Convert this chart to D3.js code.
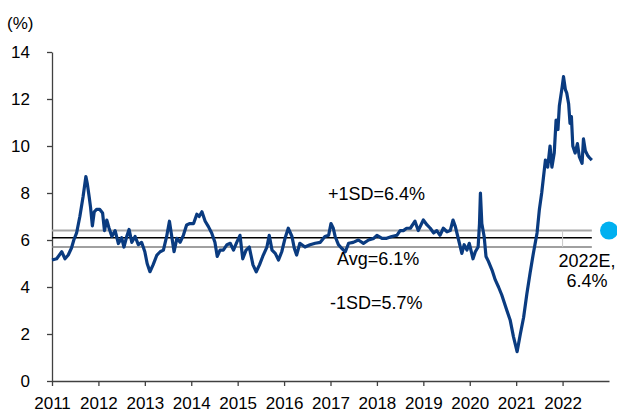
<!DOCTYPE html>
<html>
<head>
<meta charset="utf-8">
<script src="https://cdn.jsdelivr.net/npm/d3@7"></script>
<style>
  body { margin: 0; background: #fff; }
  text { font-family: "Liberation Sans", Arial, sans-serif; }
</style>
</head>
<body>
<script>
// dates as decimal years, values in %
const years = [2011.00, 2011.10, 2011.21, 2011.28, 2011.35, 2011.42, 2011.47, 2011.53, 2011.60, 2011.67,
  2011.73, 2011.76, 2011.80, 2011.83, 2011.87, 2011.91, 2011.96, 2012.03, 2012.09, 2012.13,
  2012.18, 2012.23, 2012.29, 2012.36, 2012.43, 2012.50, 2012.55, 2012.61, 2012.66, 2012.72,
  2012.79, 2012.86, 2012.93, 2013.00, 2013.05, 2013.11, 2013.18, 2013.26, 2013.33, 2013.40,
  2013.47, 2013.53, 2013.58, 2013.63, 2013.69, 2013.76, 2013.83, 2013.90, 2013.97, 2014.05,
  2014.12, 2014.17, 2014.23, 2014.30, 2014.37, 2014.44, 2014.51, 2014.56, 2014.62, 2014.69,
  2014.77, 2014.84, 2014.91, 2014.98, 2015.05, 2015.11, 2015.18, 2015.25, 2015.33, 2015.40,
  2015.47, 2015.54, 2015.63, 2015.68, 2015.74, 2015.81, 2015.88, 2015.95, 2016.02, 2016.09,
  2016.17, 2016.22, 2016.27, 2016.34, 2016.45, 2016.56, 2016.67, 2016.78, 2016.88, 2016.96,
  2017.01, 2017.06, 2017.10, 2017.17, 2017.24, 2017.32, 2017.39, 2017.49, 2017.60, 2017.71,
  2017.82, 2017.93, 2018.00, 2018.11, 2018.21, 2018.32, 2018.43, 2018.50, 2018.57, 2018.64,
  2018.72, 2018.82, 2018.89, 2019.00, 2019.08, 2019.15, 2019.22, 2019.29, 2019.36, 2019.43,
  2019.51, 2019.58, 2019.64, 2019.69, 2019.76, 2019.83, 2019.88, 2019.94, 2019.99, 2020.07,
  2020.12, 2020.18, 2020.21, 2020.23, 2020.26, 2020.31, 2020.35, 2020.40, 2020.48, 2020.55,
  2020.62, 2020.69, 2020.80, 2020.87, 2020.94, 2021.02, 2021.09, 2021.16, 2021.23, 2021.30,
  2021.37, 2021.45, 2021.50, 2021.55, 2021.59, 2021.63, 2021.68, 2021.73, 2021.77, 2021.82,
  2021.86, 2021.90, 2021.93, 2021.99, 2022.02, 2022.06, 2022.09, 2022.13, 2022.16, 2022.19,
  2022.22, 2022.27, 2022.32, 2022.36, 2022.42, 2022.45, 2022.49, 2022.54, 2022.58, 2022.63];

const values = [5.15, 5.2, 5.5, 5.2, 5.36, 5.66, 6.0, 6.3, 7.0, 7.85,
  8.7, 8.4, 7.85, 7.4, 6.6, 7.2, 7.3, 7.3, 7.15, 6.4,
  6.85, 6.5, 6.15, 6.4, 5.85, 6.1, 5.7, 6.15, 6.45, 5.9,
  6.15, 5.8, 5.9, 5.5, 5.0, 4.65, 4.95, 5.36, 5.5, 5.57,
  6.15, 6.8, 6.15, 5.5, 6.07, 5.9, 6.2, 6.64, 6.7, 6.7,
  7.1, 7.0, 7.2, 6.8, 6.57, 6.3, 5.9, 5.3, 5.57, 5.57,
  5.8, 5.86, 5.57, 5.9, 6.2, 5.2, 5.57, 5.7, 4.94, 4.65,
  4.94, 5.3, 5.7, 6.2, 5.57, 5.43, 5.15, 5.5, 6.07, 6.5,
  6.15, 5.65, 5.36, 5.86, 5.7, 5.8, 5.86, 5.9, 6.15, 6.2,
  6.7, 6.5, 6.15, 5.8, 5.65, 5.5, 5.86, 5.9, 6.0, 5.86,
  6.0, 6.07, 6.2, 6.07, 6.07, 6.15, 6.2, 6.4, 6.4, 6.5,
  6.5, 6.8, 6.4, 6.85, 6.64, 6.5, 6.3, 6.4, 6.2, 6.5,
  6.35, 6.4, 6.85, 6.57, 6.0, 5.43, 5.8, 5.57, 5.86, 5.2,
  5.5, 5.7, 6.7, 8.0, 6.7, 6.15, 5.3, 5.1, 4.72, 4.3,
  4.0, 3.66, 3.0, 2.6, 1.9, 1.25, 2.0, 2.7, 3.7, 4.6,
  5.43, 6.3, 7.3, 8.0, 8.7, 9.4, 9.1, 10.0, 9.1, 9.7,
  11.1, 10.7, 11.7, 12.5, 12.95, 12.4, 12.25, 11.8, 10.96, 11.25,
  10.0, 9.7, 10.1, 9.55, 9.26, 10.3, 9.8, 9.6, 9.5, 9.4];

const yearTicks = [2011, 2012, 2013, 2014, 2015, 2016, 2017, 2018, 2019, 2020, 2021, 2022];
const yTicks = [0, 2, 4, 6, 8, 10, 12, 14];

// reference lines
const bands = [
  { name: "+1SD", value: 6.4 },
  { name: "Avg", value: 6.1 },
  { name: "-1SD", value: 5.7 }
];
const estimate = { year: 2023, value: 6.4, label1: "2022E,", label2: "6.4%" };

const width = 617, height = 414;

let svg = d3.select("body").append("svg")
  .attr("width", width)
  .attr("height", height)

let x = d3.scaleLinear().domain([2011, 2023]).range([52, 609]);
let y = d3.scaleLinear().domain([0, 14]).range([381, 52]);

// axes
let xAxis = svg.append("g")
  .attr("transform", "translate(0," + y(0) + ")")
  .call(d3.axisBottom(x).tickValues(yearTicks).tickFormat(d3.format("d"))
    .tickSize(5).tickSizeOuter(0).tickPadding(11));

let yAxis = svg.append("g")
  .attr("transform", "translate(" + x(2011) + ",0)")
  .call(d3.axisLeft(y).tickValues(yTicks).tickSize(5).tickSizeOuter(0).tickPadding(17));

svg.selectAll(".domain, .tick line").attr("stroke", "#404040").attr("stroke-width", 1.3);
svg.selectAll(".tick text").style("font-size", "17px").attr("fill", "#000");

svg.append("text")
  .attr("x", 7).attr("y", 29)
  .style("font-size", "17px")
  .text("(%)");

// SD and average lines
const lineStyle = { "+1SD": ["#a6a6a6", 2], "Avg": ["#000", 1.5], "-1SD": ["#808080", 1.5] };
svg.selectAll("line.band")
  .data(bands)
  .enter().append("line")
  .attr("class", "band")
  .attr("x1", x(2011)).attr("x2", x(2022.63))
  .attr("y1", d => y(d.value)).attr("y2", d => y(d.value))
  .attr("stroke", d => lineStyle[d.name][0])
  .attr("stroke-width", d => lineStyle[d.name][1]);

svg.append("line")
  .attr("x1", x(2022)).attr("x2", x(2022))
  .attr("y1", y(6.4)).attr("y2", y(5.7))
  .attr("stroke", "#c8c8c8").attr("stroke-width", 1);

// main series
let line = d3.line()
  .x((d, i) => x(years[i]))
  .y(d => y(d));

svg.append("path")
  .datum(values)
  .attr("d", line)
  .attr("fill", "none")
  .attr("stroke", "#0a3b80")
  .attr("stroke-width", 3.2)
  .attr("stroke-linejoin", "round");

// labels
svg.append("text").attr("x", 328).attr("y", 200).style("font-size", "18px").text("+1SD=6.4%");
svg.append("text").attr("x", 337).attr("y", 265).style("font-size", "18px").text("Avg=6.1%");
svg.append("text").attr("x", 330).attr("y", 309).style("font-size", "18px").text("-1SD=5.7%");

svg.append("text").attr("x", 587).attr("y", 267).attr("text-anchor", "middle")
  .style("font-size", "18px").text(estimate.label1);
svg.append("text").attr("x", 587).attr("y", 287).attr("text-anchor", "middle")
  .style("font-size", "18px").text(estimate.label2);

svg.append("circle")
  .attr("cx", x(estimate.year))
  .attr("cy", y(estimate.value))
  .attr("r", 9)
  .style("fill", "#00b0f0");
</script>
</body>
</html>
